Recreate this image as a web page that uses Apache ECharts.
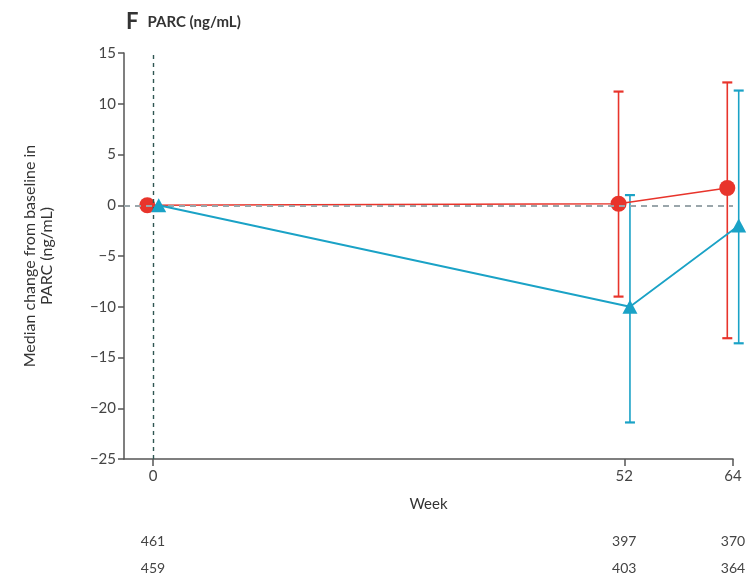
<!DOCTYPE html>
<html>
<head>
<meta charset="utf-8">
<script src="https://cdn.jsdelivr.net/npm/echarts@6/dist/echarts.min.js"></script>
<style>
  html, body { margin: 0; padding: 0; background: #fff; }
  #chart { width: 749px; height: 577px; }
</style>
</head>
<body>
<div id="chart"></div>
<script>
// Weeks on the x axis
const weeks = [0, 52, 64];
// Red arm (circles): median change and interquartile range
const redMedian = [0, 0.15, 1.7];
const redLow = [null, -9.0, -13.1];
const redHigh = [null, 11.2, 12.1];
// Blue arm (triangles): median change and interquartile range
const blueMedian = [0, -10.0, -2.0];
const blueLow = [null, -21.4, -13.6];
const blueHigh = [null, 1.0, 11.3];
// Numbers at risk under each week
const redCounts = [461, 397, 370];
const blueCounts = [459, 403, 364];
// Y axis ticks
const yTicks = [15, 10, 5, 0, -5, -10, -15, -20, -25];

const RED = '#e8342b';
const BLUE = '#1aa2c6';
const FONT = 'Lato';
const DODGE = 0.63; // horizontal offset so the two arms do not overlap
const X_MIN = -3.2, X_MAX = 64;

const redPts = weeks.map((w, i) => [w - DODGE, redMedian[i]]);
const bluePts = weeks.map((w, i) => [w + DODGE, blueMedian[i]]);
const redBars = weeks.map((w, i) => [w - DODGE, redLow[i], redHigh[i]]).filter(d => d[1] !== null);
const blueBars = weeks.map((w, i) => [w + DODGE, blueLow[i], blueHigh[i]]).filter(d => d[1] !== null);

function errorBar(color) {
  return function (params, api) {
    const x = api.value(0);
    const lo = api.coord([x, api.value(1)]);
    const hi = api.coord([x, api.value(2)]);
    const half = 5;
    const style = { stroke: color, lineWidth: 1.6, fill: null };
    return {
      type: 'group',
      children: [
        { type: 'line', shape: { x1: lo[0], y1: lo[1], x2: hi[0], y2: hi[1] }, style },
        { type: 'line', shape: { x1: lo[0] - half, y1: lo[1], x2: lo[0] + half, y2: lo[1] }, style: Object.assign({}, style, { lineWidth: 2.2 }) },
        { type: 'line', shape: { x1: hi[0] - half, y1: hi[1], x2: hi[0] + half, y2: hi[1] }, style: Object.assign({}, style, { lineWidth: 2.2 }) }
      ]
    };
  };
}

function countAxis(counts, margin) {
  return {
    type: 'value', min: X_MIN, max: X_MAX, position: 'bottom',
    axisLine: { show: false }, axisTick: { show: false }, splitLine: { show: false },
    axisLabel: {
      customValues: weeks, margin: margin, color: '#444', fontFamily: FONT, fontSize: 14,
      formatter: v => { const i = weeks.indexOf(v); return i >= 0 ? String(counts[i]) : ''; }
    }
  };
}

const chart = echarts.init(document.getElementById('chart'), null, { renderer: 'canvas' });
chart.setOption({
  animation: false,
  backgroundColor: '#ffffff',
  title: {
    text: '{f|F}{t|PARC (ng/mL)}',
    left: 121, top: 6,
    textStyle: {
      rich: {
        f: { fontFamily: FONT, fontSize: 22, fontWeight: 'bold', color: '#333' },
        t: { fontFamily: FONT, fontSize: 15, fontWeight: 'bold', color: '#333', padding: [0, 0, 0, 9] }
      }
    }
  },
  grid: { left: 124, right: 16, top: 53, bottom: 118, containLabel: false },
  xAxis: [
    {
      type: 'value', min: X_MIN, max: X_MAX,
      name: 'Week', nameLocation: 'middle', nameGap: 38,
      nameTextStyle: { fontFamily: FONT, fontSize: 15, color: '#333' },
      axisLine: { onZero: false, lineStyle: { color: '#555', width: 1.5 } },
      axisTick: { customValues: weeks, length: 7, lineStyle: { color: '#555', width: 1.5 } },
      axisLabel: { customValues: weeks, margin: 10, color: '#444', fontFamily: FONT, fontSize: 15 },
      splitLine: { show: false }
    },
    countAxis(redCounts, 75),
    countAxis(blueCounts, 102)
  ],
  yAxis: {
    type: 'value', min: -25, max: 15, interval: 5,
    name: 'Median change from baseline in\nPARC (ng/mL)',
    nameLocation: 'middle', nameGap: 69, nameRotate: 90,
    nameTextStyle: { fontFamily: FONT, fontSize: 16, color: '#333', lineHeight: 17 },
    axisLine: { show: true, onZero: false, lineStyle: { color: '#555', width: 1.5 } },
    axisTick: { show: true, length: 6, lineStyle: { color: '#555', width: 1.5 } },
    axisLabel: {
      color: '#444', fontFamily: FONT, fontSize: 15, margin: 8,
      formatter: v => (yTicks.indexOf(v) >= 0 ? String(v).replace('-', '\u2212') : '')
    },
    splitLine: { show: false }
  },
  series: [
    {
      type: 'line', data: [], silent: true,
      markLine: {
        symbol: 'none', silent: true, label: { show: false },
        data: [
          { yAxis: 0, lineStyle: { color: '#9aa6ab', type: [6, 5], width: 2 } },
          { xAxis: 0, lineStyle: { color: '#2f5652', type: [4, 4], width: 1.4 } }
        ]
      }
    },
    {
      type: 'custom', renderItem: errorBar(RED), data: redBars, z: 3, clip: false,
      encode: { x: 0, y: [1, 2] }
    },
    {
      type: 'custom', renderItem: errorBar(BLUE), data: blueBars, z: 3, clip: false,
      encode: { x: 0, y: [1, 2] }
    },
    {
      type: 'line', data: redPts, z: 4, clip: false,
      symbol: 'circle', symbolSize: 16,
      lineStyle: { color: RED, width: 1.6 },
      itemStyle: { color: RED }
    },
    {
      type: 'line', data: bluePts, z: 5, clip: false,
      symbol: 'triangle', symbolSize: [15, 14],
      lineStyle: { color: BLUE, width: 1.8 },
      itemStyle: { color: BLUE }
    }
  ]
});
</script>
</body>
</html>
